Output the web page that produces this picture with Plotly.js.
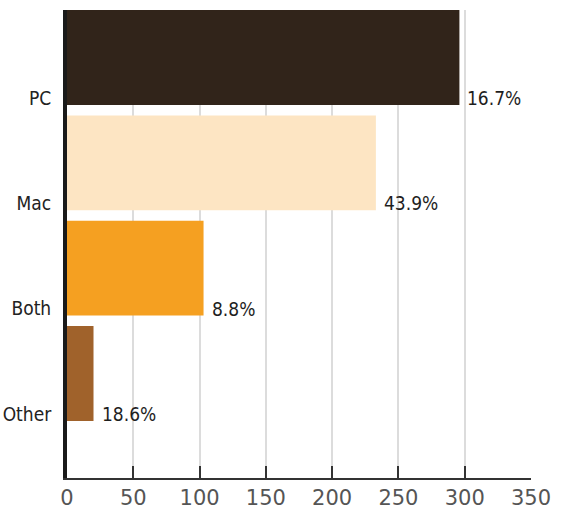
<!DOCTYPE html>
<html>
<head>
<meta charset="utf-8">
<script src="https://cdn.plot.ly/plotly-3.0.1.min.js"></script>
<style>html,body{margin:0;padding:0;background:#fff;}#chart{width:562px;height:512px;}</style>
</head>
<body>
<div id="chart"></div>
<script>
const categories = ["PC", "Mac", "Both", "Other"];
const counts = [296, 233, 103, 20];
const shareLabels = ["16.7%", "43.9%", "8.8%", "18.6%"];
const barColors = ["#31241a", "#fde5c3", "#f5a021", "#a0622b"];
const xTicks = [0, 50, 100, 150, 200, 250, 300, 350];

const pos = categories.map((c, i) => i);
const labelOffset = 0.385;
const narrowFont = "DejaVu Sans Condensed, Roboto, sans-serif";

const trace = {
  type: "bar",
  orientation: "h",
  x: counts,
  y: pos,
  width: 0.9,
  marker: { color: barColors, line: { width: 0 } },
  hoverinfo: "skip"
};

const annotations = counts.map((v, i) => ({
  x: v, y: i + labelOffset, xref: "x", yref: "y",
  text: shareLabels[i], showarrow: false,
  xanchor: "left", yanchor: "middle", xshift: 6,
  font: { family: narrowFont, size: 19, color: "#1e1e1e" }
}));

const layout = {
  width: 562, height: 512,
  margin: { l: 67, r: 31, t: 10, b: 34, pad: 0 },
  paper_bgcolor: "#fff", plot_bgcolor: "#fff",
  showlegend: false,
  bargap: 0.1,
  xaxis: {
    range: [0, 350],
    tickvals: xTicks,
    ticktext: xTicks.map(String),
    showgrid: true, gridcolor: "#dcdcdc", gridwidth: 2,
    zeroline: false,
    showline: true, linecolor: "#333", linewidth: 2,
    ticks: "inside", ticklen: 12, tickwidth: 2, tickcolor: "#333",
    ticklabelstandoff: 0,
    tickfont: { family: "DejaVu Sans, Verdana, sans-serif", size: 21, color: "#555" },
    fixedrange: true
  },
  yaxis: {
    range: [3.992, -0.451],
    tickvals: pos.map(p => p + labelOffset),
    ticktext: categories,
    showgrid: false, zeroline: false,
    showline: true, linecolor: "#1a1a1a", linewidth: 4,
    ticks: "",
    ticklabelstandoff: 8,
    tickfont: { family: narrowFont, size: 19, color: "#222" },
    fixedrange: true
  },
  annotations: annotations
};

Plotly.newPlot("chart", [trace], layout, { displayModeBar: false, staticPlot: true });
</script>
</body>
</html>
